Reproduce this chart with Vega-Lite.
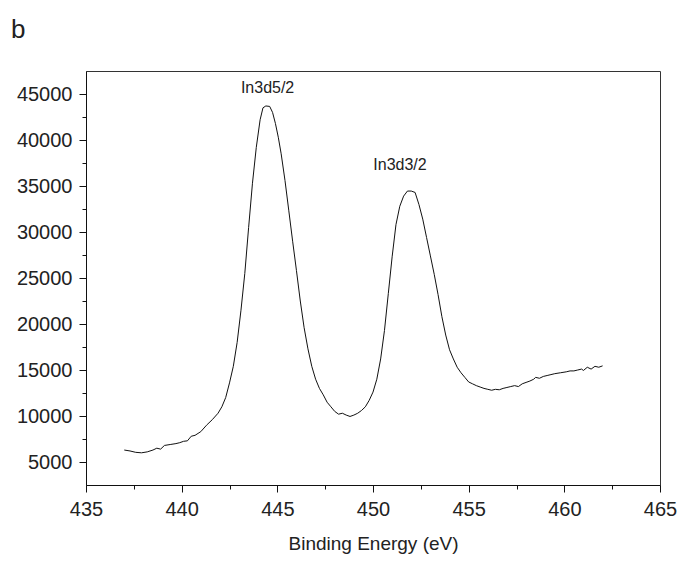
{
  "$schema": "https://vega.github.io/schema/vega-lite/v6.json",
  "width": 574,
  "height": 414,
  "autosize": "none",
  "padding": {"left": 86, "top": 71, "right": 35, "bottom": 76},
  "background": "white",
  "config": {
    "view": {"stroke": "#333", "strokeWidth": 1},
    "font": "Liberation Sans",
    "axis": {"grid": false, "domainColor": "#111", "tickColor": "#111", "labelColor": "#222", "titleColor": "#222", "labelFont": "Liberation Sans", "titleFont": "Liberation Sans"}
  },
  "title": {"text": "b", "anchor": "start", "frame": "group", "fontSize": 26, "fontWeight": "normal", "color": "#222", "dx": -75, "offset": 28, "font": "Liberation Sans"},
  "datasets": {
    "spectrum": [
      {"be": 437.0, "counts": 6300}, {"be": 437.3, "counts": 6200}, {"be": 437.6, "counts": 6050}, {"be": 437.9, "counts": 6000},
      {"be": 438.2, "counts": 6100}, {"be": 438.5, "counts": 6300}, {"be": 438.7, "counts": 6500}, {"be": 438.9, "counts": 6400},
      {"be": 439.1, "counts": 6800}, {"be": 439.4, "counts": 6900}, {"be": 439.7, "counts": 7000}, {"be": 439.9, "counts": 7100},
      {"be": 440.1, "counts": 7250}, {"be": 440.3, "counts": 7300}, {"be": 440.5, "counts": 7800}, {"be": 440.7, "counts": 7900},
      {"be": 441.0, "counts": 8300}, {"be": 441.3, "counts": 9000}, {"be": 441.6, "counts": 9600}, {"be": 441.9, "counts": 10300},
      {"be": 442.1, "counts": 11000}, {"be": 442.3, "counts": 12000}, {"be": 442.5, "counts": 13600}, {"be": 442.7, "counts": 15400},
      {"be": 442.9, "counts": 18000}, {"be": 443.1, "counts": 21500}, {"be": 443.3, "counts": 25500}, {"be": 443.5, "counts": 30500},
      {"be": 443.7, "counts": 35300}, {"be": 443.9, "counts": 39200}, {"be": 444.1, "counts": 42200}, {"be": 444.25, "counts": 43500},
      {"be": 444.4, "counts": 43700}, {"be": 444.6, "counts": 43650}, {"be": 444.75, "counts": 43000}, {"be": 444.9, "counts": 41800},
      {"be": 445.05, "counts": 40300}, {"be": 445.2, "counts": 38500}, {"be": 445.4, "counts": 35600}, {"be": 445.6, "counts": 32300},
      {"be": 445.8, "counts": 29000}, {"be": 446.0, "counts": 25800}, {"be": 446.2, "counts": 22500}, {"be": 446.4, "counts": 19600},
      {"be": 446.6, "counts": 17300}, {"be": 446.8, "counts": 15400}, {"be": 447.0, "counts": 14000}, {"be": 447.2, "counts": 13000},
      {"be": 447.4, "counts": 12300}, {"be": 447.6, "counts": 11500}, {"be": 447.8, "counts": 11000}, {"be": 448.0, "counts": 10500},
      {"be": 448.2, "counts": 10200}, {"be": 448.4, "counts": 10300}, {"be": 448.6, "counts": 10100}, {"be": 448.8, "counts": 9950},
      {"be": 449.0, "counts": 10100}, {"be": 449.2, "counts": 10300}, {"be": 449.4, "counts": 10600}, {"be": 449.6, "counts": 11000},
      {"be": 449.8, "counts": 11700}, {"be": 450.0, "counts": 12600}, {"be": 450.2, "counts": 14000}, {"be": 450.4, "counts": 16200},
      {"be": 450.6, "counts": 19300}, {"be": 450.8, "counts": 23300}, {"be": 451.0, "counts": 27300}, {"be": 451.2, "counts": 30800},
      {"be": 451.4, "counts": 32800}, {"be": 451.6, "counts": 33900}, {"be": 451.8, "counts": 34450}, {"be": 452.0, "counts": 34450},
      {"be": 452.2, "counts": 34300}, {"be": 452.4, "counts": 33000}, {"be": 452.6, "counts": 31400}, {"be": 452.8, "counts": 29400},
      {"be": 453.0, "counts": 27400}, {"be": 453.2, "counts": 25400}, {"be": 453.4, "counts": 23200}, {"be": 453.6, "counts": 20800},
      {"be": 453.8, "counts": 18800}, {"be": 454.0, "counts": 17200}, {"be": 454.2, "counts": 16200}, {"be": 454.4, "counts": 15300},
      {"be": 454.6, "counts": 14700}, {"be": 454.8, "counts": 14200}, {"be": 455.0, "counts": 13700}, {"be": 455.2, "counts": 13500},
      {"be": 455.4, "counts": 13300}, {"be": 455.6, "counts": 13150}, {"be": 455.8, "counts": 13000}, {"be": 456.0, "counts": 12900},
      {"be": 456.2, "counts": 12800}, {"be": 456.4, "counts": 12900}, {"be": 456.6, "counts": 12850}, {"be": 456.8, "counts": 13000},
      {"be": 457.0, "counts": 13100}, {"be": 457.2, "counts": 13200}, {"be": 457.4, "counts": 13300}, {"be": 457.6, "counts": 13200},
      {"be": 457.8, "counts": 13500}, {"be": 458.0, "counts": 13650}, {"be": 458.2, "counts": 13800}, {"be": 458.4, "counts": 14000},
      {"be": 458.5, "counts": 14200}, {"be": 458.7, "counts": 14100}, {"be": 458.9, "counts": 14300}, {"be": 459.1, "counts": 14400},
      {"be": 459.3, "counts": 14500}, {"be": 459.5, "counts": 14600}, {"be": 459.8, "counts": 14700}, {"be": 460.1, "counts": 14800},
      {"be": 460.3, "counts": 14900}, {"be": 460.5, "counts": 14900}, {"be": 460.7, "counts": 15000}, {"be": 460.9, "counts": 15100},
      {"be": 461.0, "counts": 14950}, {"be": 461.2, "counts": 15300}, {"be": 461.4, "counts": 15100}, {"be": 461.6, "counts": 15400},
      {"be": 461.8, "counts": 15300}, {"be": 462.0, "counts": 15450}
    ],
    "labels": [
      {"be": 444.49, "counts": 45650, "label": "In3d5/2"},
      {"be": 451.41, "counts": 37280, "label": "In3d3/2"}
    ]
  },
  "layer": [
    {
      "data": {"name": "spectrum"},
      "mark": {"type": "line", "color": "#111", "strokeWidth": 1, "interpolate": "linear"},
      "encoding": {
        "x": {"field": "be", "type": "quantitative", "scale": {"domain": [435, 465], "nice": false, "zero": false},
          "axis": {"values": [435, 440, 445, 450, 455, 460, 465], "title": "Binding Energy (eV)", "titleFontSize": 19, "titleFontWeight": "normal", "titlePadding": 15, "labelFontSize": 20, "tickSize": 7, "labelPadding": 7, "labelFlush": false, "labelOverlap": false}},
        "y": {"field": "counts", "type": "quantitative", "scale": {"domain": [2500, 47500], "nice": false, "zero": false},
          "axis": {"values": [5000, 10000, 15000, 20000, 25000, 30000, 35000, 40000, 45000], "title": null, "labelFontSize": 20, "tickSize": 7, "labelPadding": 7, "format": "d", "labelOverlap": false}}
      }
    },
    {
      "data": {"name": "labels"},
      "mark": {"type": "text", "fontSize": 16, "color": "#222", "align": "center", "baseline": "middle", "font": "Liberation Sans"},
      "encoding": {
        "x": {"field": "be", "type": "quantitative",
          "axis": {"orient": "bottom", "values": [437.5, 442.5, 447.5, 452.5, 457.5, 462.5], "labels": false, "domain": false, "title": null, "tickSize": 4}},
        "y": {"field": "counts", "type": "quantitative",
          "axis": {"orient": "left", "values": [7500, 12500, 17500, 22500, 27500, 32500, 37500, 42500], "labels": false, "domain": false, "title": null, "tickSize": 4}},
        "text": {"field": "label", "type": "nominal"}
      }
    }
  ],
  "resolve": {"axis": {"x": "independent", "y": "independent"}}
}
